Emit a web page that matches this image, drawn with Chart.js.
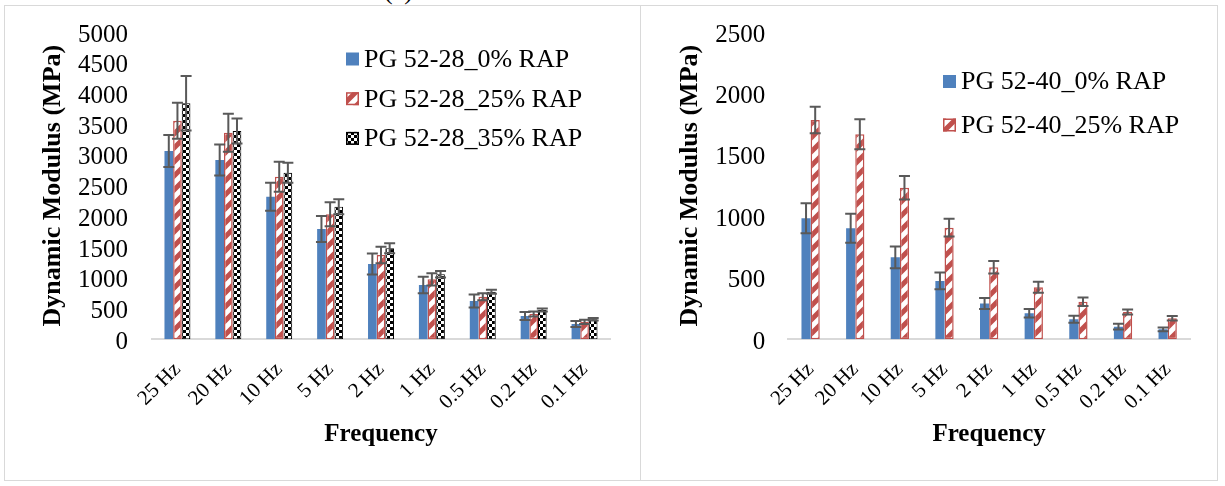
<!DOCTYPE html>
<html>
<head>
<meta charset="utf-8">
<script src="https://cdn.jsdelivr.net/npm/chart.js@4.4.1/dist/chart.umd.min.js"></script>
<style>
  html, body { margin: 0; padding: 0; background: #fff; }
  body { width: 1225px; height: 486px; position: relative; overflow: hidden; font-family: 'Liberation Serif', 'Times New Roman', serif; }
  .panel { position: absolute; top: 5px; height: 476px; border: 1px solid #d9d9d9; box-sizing: border-box; }
  .wrap { position: absolute; top: 0; height: 486px; }
  #capA { position: absolute; left: 384px; top: -22px; font-size: 26px; line-height: 26px; }
</style>
</head>
<body>
<div id="capA">(a)</div>
<div class="panel" style="left:4px;width:637px"></div>
<div class="panel" style="left:640px;width:578px"></div>
<div class="wrap" style="left:0;width:640px"><canvas id="left" width="640" height="486"></canvas></div>
<div class="wrap" style="left:641px;width:584px"><canvas id="right" width="584" height="486"></canvas></div>
<script>
// categories
const freqLabels = ['25 Hz', '20 Hz', '10 Hz', '5 Hz', '2 Hz', '1 Hz', '0.5 Hz', '0.2 Hz', '0.1 Hz'];

// left chart: PG 52-28 (MPa) and error bars
const pg28_0     = [3064, 2917, 2320, 1795, 1225, 884, 623, 379, 249];
const pg28_0err  = [260, 252, 228, 212, 171, 135, 106, 65, 49];
const pg28_25    = [3557, 3362, 2646, 2034, 1372, 976, 693, 412, 285];
const pg28_25err = [293, 309, 244, 195, 135, 100, 57, 40, 35];
const pg28_35    = [3840, 3389, 2711, 2158, 1481, 1058, 774, 477, 325];
const pg28_35err = [444, 203, 163, 122, 81, 54, 33, 25, 20];

// right chart: PG 52-40
const pg40_0     = [984, 903, 667, 475, 291, 212, 163, 103, 81];
const pg40_0err  = [122, 118, 88, 68, 45, 34, 28, 24, 15];
const pg40_25    = [1784, 1668, 1233, 908, 586, 423, 306, 222, 171];
const pg40_25err = [108, 122, 96, 72, 51, 45, 35, 20, 19];

// y axis ranges
const leftMax = 5000, rightMax = 2500, yStep = 500;

const BLUE = '#4f81bd', RED = '#c0504d', ERR = '#595959';
const SERIF = "'Liberation Serif', 'Times New Roman', serif";

function stripes(ctx, color) {
  const T = 14, c = document.createElement('canvas');
  c.width = c.height = T;
  const g = c.getContext('2d');
  g.fillStyle = '#fff'; g.fillRect(0, 0, T, T);
  g.strokeStyle = color; g.lineWidth = 5;
  g.beginPath();
  g.moveTo(0, T); g.lineTo(T, 0);
  g.moveTo(-T / 2, T / 2); g.lineTo(T / 2, -T / 2);
  g.moveTo(T / 2, T * 1.5); g.lineTo(T * 1.5, T / 2);
  g.stroke();
  return ctx.createPattern(c, 'repeat');
}

function checker(ctx) {
  const s = 3, c = document.createElement('canvas');
  c.width = c.height = s * 2;
  const g = c.getContext('2d');
  g.fillStyle = '#000'; g.fillRect(0, 0, s * 2, s * 2);
  g.fillStyle = '#fff'; g.fillRect(0, 0, s, s); g.fillRect(s, s, s, s);
  return ctx.createPattern(c, 'repeat');
}

// error bars drawn through the y scale
const errorBars = {
  id: 'errorBars',
  afterDatasetsDraw(chart) {
    const ctx = chart.ctx, y = chart.scales.y;
    ctx.save();
    ctx.strokeStyle = ERR; ctx.lineWidth = 2;
    chart.data.datasets.forEach((ds, di) => {
      chart.getDatasetMeta(di).data.forEach((bar, i) => {
        const v = ds.data[i], e = ds.errors[i];
        const yt = y.getPixelForValue(v + e), yb = y.getPixelForValue(v - e);
        const x = bar.x, w = 5.5;
        ctx.beginPath();
        ctx.moveTo(x, yt); ctx.lineTo(x, yb);
        ctx.moveTo(x - w, yt); ctx.lineTo(x + w, yt);
        ctx.moveTo(x - w, yb); ctx.lineTo(x + w, yb);
        ctx.stroke();
      });
    });
    ctx.restore();
  }
};

// legend drawn inside the plot, like the original
const boxLegend = {
  id: 'boxLegend',
  afterDraw(chart, args, o) {
    const ctx = chart.ctx;
    ctx.save();
    ctx.font = '26px ' + SERIF;
    ctx.textBaseline = 'middle';
    chart.data.datasets.forEach((ds, i) => {
      const yc = o.y + i * o.gap, s = 13;
      ctx.fillStyle = ds.backgroundColor;
      ctx.fillRect(o.x, yc - s / 2, s, s);
      if (ds.borderWidth) {
        ctx.strokeStyle = ds.borderColor; ctx.lineWidth = 1.5;
        ctx.strokeRect(o.x + 0.75, yc - s / 2 + 0.75, s - 1.5, s - 1.5);
      }
      ctx.fillStyle = '#000';
      ctx.fillText(ds.label, o.x + 18, yc + 1);
    });
    ctx.restore();
  }
};

function makeChart(id, datasets, opt) {
  return new Chart(document.getElementById(id), {
    type: 'bar',
    data: { labels: freqLabels, datasets },
    options: {
      responsive: false,
      animation: false,
      devicePixelRatio: 1,
      layout: { padding: opt.pad },
      datasets: { bar: { categoryPercentage: opt.cat, barPercentage: 1, borderSkipped: false } },
      plugins: {
        legend: { display: false },
        tooltip: { enabled: false },
        boxLegend: opt.legend
      },
      scales: {
        x: {
          grid: { display: false, drawTicks: false },
          border: { display: true, color: '#d9d9d9', width: 2 },
          ticks: { color: '#000', font: { family: SERIF, size: 21 }, minRotation: 45, maxRotation: 45, autoSkip: false, padding: 18 },
          title: { display: true, text: 'Frequency', color: '#000', font: { family: SERIF, size: 25, weight: 'bold' }, padding: { top: 0, bottom: 6 } },
          afterFit(s) { s.height = 116.7; }
        },
        y: {
          min: 0, max: opt.max,
          grid: { display: false, drawTicks: false },
          border: { display: false },
          ticks: { stepSize: yStep, autoSkip: false, color: '#000', font: { family: SERIF, size: 25 }, padding: opt.tickPad,
                   labelOffset: 3, callback: v => String(v) },
          title: { display: true, text: 'Dynamic Modulus (MPa)', color: '#000', font: { family: SERIF, size: 26, weight: 'bold' }, padding: { top: 7.4, bottom: 0 } },
          // fixed width; tick padding must not push the plot top down
          afterFit(s) { s.width = opt.yw; s.paddingTop = 15; s.paddingBottom = 15; }
        }
      }
    },
    plugins: [errorBars, boxLegend]
  });
}

const lctx = document.getElementById('left').getContext('2d');
const rctx = document.getElementById('right').getContext('2d');

makeChart('left', [
  { label: 'PG 52-28_0% RAP', data: pg28_0, errors: pg28_0err, backgroundColor: BLUE, borderWidth: 0 },
  { label: 'PG 52-28_25% RAP', data: pg28_25, errors: pg28_25err, backgroundColor: stripes(lctx, RED), borderColor: RED, borderWidth: 1.5 },
  { label: 'PG 52-28_35% RAP', data: pg28_35, errors: pg28_35err, backgroundColor: checker(lctx), borderColor: '#000', borderWidth: 1 }
], { pad: { left: 30, top: 32, right: 30, bottom: 30 }, yw: 122, tickPad: 24, max: leftMax, cat: 0.51,
     legend: { x: 346, y: 59, gap: 39.7 } });

makeChart('right', [
  { label: 'PG 52-40_0% RAP', data: pg40_0, errors: pg40_0err, backgroundColor: BLUE, borderWidth: 0 },
  { label: 'PG 52-40_25% RAP', data: pg40_25, errors: pg40_25err, backgroundColor: stripes(rctx, RED), borderColor: RED, borderWidth: 1.5 }
], { pad: { left: 26, top: 32, right: 35, bottom: 30 }, yw: 121.3, tickPad: 23, max: rightMax, cat: 0.41,
     legend: { x: 302, y: 81.5, gap: 43.5 } });
</script>
</body>
</html>
